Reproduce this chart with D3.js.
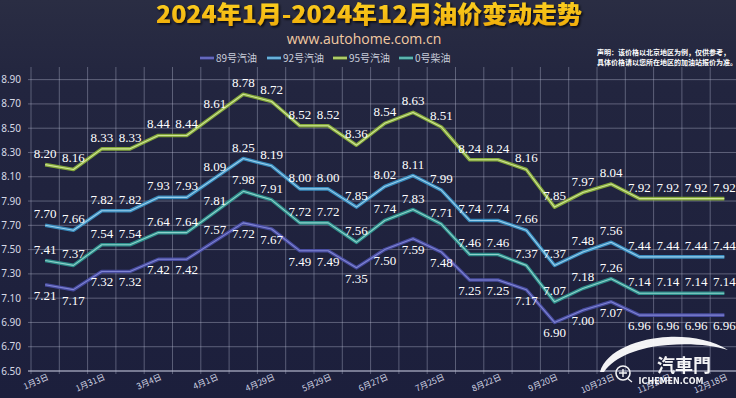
<html>
<meta charset="utf-8">
<head>
<script src="https://d3js.org/d3.v7.min.js"></script>
<style>
html, body {
  margin:0;
  padding:0;
  background:#1f2240;
}
svg {display:block;}
</style>
</head>
<body>
<svg class="svg"></svg>
<script>

// adjustment dates (only every other one gets a label)
const dates = ["1月3日","1月17日","1月31日","2月19日","3月4日","3月18日","4月1日","4月16日","4月29日",
  "5月15日","5月29日","6月13日","6月27日","7月11日","7月25日","8月8日","8月22日","9月5日",
  "9月20日","10月10日","10月23日","11月6日","11月20日","12月4日","12月18日"]

const p89 = [7.21,7.17,7.32,7.32,7.42,7.42,7.57,7.72,7.67,7.49,7.49,7.35,7.50,7.59,7.48,7.25,7.25,7.17,6.90,7.00,7.07,6.96,6.96,6.96,6.96]
const p92 = [7.70,7.66,7.82,7.82,7.93,7.93,8.09,8.25,8.19,8.00,8.00,7.85,8.02,8.11,7.99,7.74,7.74,7.66,7.37,7.48,7.56,7.44,7.44,7.44,7.44]
const p95 = [8.20,8.16,8.33,8.33,8.44,8.44,8.61,8.78,8.72,8.52,8.52,8.36,8.54,8.63,8.51,8.24,8.24,8.16,7.85,7.97,8.04,7.92,7.92,7.92,7.92]
const p0  = [7.41,7.37,7.54,7.54,7.64,7.64,7.81,7.98,7.91,7.72,7.72,7.56,7.74,7.83,7.71,7.46,7.46,7.37,7.07,7.18,7.26,7.14,7.14,7.14,7.14]

const seriesNames = ["89号汽油","92号汽油","95号汽油","0号柴油"]
const yTicks = [6.50,6.70,6.90,7.10,7.30,7.50,7.70,7.90,8.10,8.30,8.50,8.70,8.90]

const W = 736, H = 398

const series = [
  {name: seriesNames[0], values: p89, outer: "#4a4ea6", inner: "#8f93e0", below: true},
  {name: seriesNames[1], values: p92, outer: "#3a92c6", inner: "#b2e0f6", below: false},
  {name: seriesNames[2], values: p95, outer: "#8cb33a", inner: "#e2f2ae", below: false},
  {name: seriesNames[3], values: p0,  outer: "#2e9690", inner: "#a6e2da", below: false}
]

var svg = d3.select("svg")
  .attr("width", W)
  .attr("height", H)

// background
const bg = svg.append("defs").append("linearGradient")
  .attr("id", "bg")
  .attr("gradientTransform", "rotate(90)")
bg.append("stop").attr("offset", "0%").attr("stop-color", "#2a2d43")
bg.append("stop").attr("offset", "22%").attr("stop-color", "#22253f")
bg.append("stop").attr("offset", "100%").attr("stop-color", "#1c1f3c")

svg.append("rect")
  .attr("width", W)
  .attr("height", H)
  .style("fill", "url(#bg)")

const xScale = d3.scaleBand()
  .domain(dates)
  .range([31, 738.5])

const yScale = d3.scaleLinear()
  .domain([6.5, 9.0])
  .range([371, 67.5])

const cx = d => xScale(d) + xScale.bandwidth() / 2

// vertical grid, one per band edge
svg.append("g").selectAll("line")
  .data(dates)
  .enter().append("line")
  .attr("x1", d => xScale(d))
  .attr("x2", d => xScale(d))
  .attr("y1", 67)
  .attr("y2", 374)
  .attr("stroke", "#aeb2c8")
  .attr("stroke-opacity", 0.42)
  .attr("stroke-width", 1)

// horizontal grid
svg.append("g").selectAll("line")
  .data(yTicks)
  .enter().append("line")
  .attr("x1", 28)
  .attr("x2", W)
  .attr("y1", d => yScale(d))
  .attr("y2", d => yScale(d))
  .attr("stroke", "#b4b8cc")
  .attr("stroke-opacity", (d, i) => i == 0 ? 0.8 : 0.42)
  .attr("stroke-width", (d, i) => i == 0 ? 1.5 : 1)

// y labels
svg.append("g").selectAll("text")
  .data(yTicks)
  .enter().append("text")
  .attr("x", 21)
  .attr("y", d => yScale(d) + 3.5)
  .attr("text-anchor", "end")
  .style("font-family", "'Noto Sans', sans-serif")
  .style("font-size", "10px")
  .style("fill", "#d6d9e6")
  .text(d => d.toFixed(2))

// x labels, every other date
svg.append("g").selectAll("text")
  .data(dates.filter((d, i) => i % 2 == 0))
  .enter().append("text")
  .attr("transform", d => "translate(" + (cx(d) + 4) + "," + 379 + ") rotate(-24)")
  .attr("text-anchor", "end")
  .style("font-family", "'Noto Sans CJK SC', sans-serif")
  .style("font-size", "8.5px")
  .style("fill", "#d0d3e2")
  .text(d => d)

const line = d3.line()
  .x((d, i) => cx(dates[i]))
  .y(d => yScale(d))

series.forEach(function(s) {
  svg.append("path")
    .datum(s.values)
    .attr("d", line)
    .attr("fill", "none")
    .attr("stroke", s.outer)
    .attr("stroke-width", 3.6)
    .attr("stroke-opacity", 0.92)
    .attr("stroke-linejoin", "round")
  svg.append("path")
    .datum(s.values)
    .attr("d", line)
    .attr("fill", "none")
    .attr("stroke", s.inner)
    .attr("stroke-width", 1.1)
    .attr("stroke-opacity", 0.8)
    .attr("stroke-linejoin", "round")
})

// value labels
const flip89 = [6]
series.forEach(function(s, k) {
  svg.append("g").selectAll("text")
    .data(s.values)
    .enter().append("text")
    .attr("x", (d, i) => cx(dates[i]))
    .attr("y", function(d, i) {
      var below = s.below
      if (k == 0 && flip89.indexOf(i) >= 0) below = !below
      return yScale(d) + (below ? 15 : -7)
    })
    .attr("text-anchor", "middle")
    .style("font-family", "'Liberation Serif', serif")
    .style("font-size", "13px")
    .style("fill", "#ffffff")
    .text(d => d.toFixed(2))
})

// title
const tg = svg.select("defs").append("linearGradient")
  .attr("id", "tg")
  .attr("gradientTransform", "rotate(90)")
tg.append("stop").attr("offset", "0%").attr("stop-color", "#ffd824")
tg.append("stop").attr("offset", "100%").attr("stop-color", "#eea80a")

const sh = svg.select("defs").append("filter").attr("id", "sh")
sh.append("feDropShadow")
  .attr("dx", 1.5).attr("dy", 1.5).attr("stdDeviation", 1)
  .attr("flood-color", "#000000").attr("flood-opacity", 0.8)

svg.append("text")
  .attr("x", 369)
  .attr("y", 23)
  .attr("text-anchor", "middle")
  .attr("textLength", 426)
  .attr("lengthAdjust", "spacingAndGlyphs")
  .style("font-family", "'Noto Sans CJK SC', sans-serif")
  .style("font-size", "24px")
  .style("font-weight", "900")
  .style("fill", "url(#tg)")
  .attr("filter", "url(#sh)")
  .text("2024年1月-2024年12月油价变动走势")

svg.append("text")
  .attr("x", 364)
  .attr("y", 44)
  .attr("text-anchor", "middle")
  .style("font-family", "'Open Sans', sans-serif")
  .style("font-size", "14px")
  .style("fill", "#f2c9a2")
  .text("www.autohome.com.cn")

// legend
const legX = [200, 267, 333, 399]
const legend = svg.append("g").selectAll("g")
  .data(series)
  .enter().append("g")
  .attr("transform", (d, i) => "translate(" + legX[i] + ",58)")
legend.append("line")
  .attr("x1", 0).attr("x2", 14)
  .attr("stroke", d => d.outer)
  .attr("stroke-width", 3)
legend.append("line")
  .attr("x1", 0).attr("x2", 14)
  .attr("stroke", d => d.inner)
  .attr("stroke-width", 0.8)
legend.append("text")
  .attr("x", 16)
  .attr("y", 3.5)
  .style("font-family", "'Noto Sans CJK SC', sans-serif")
  .style("font-size", "10px")
  .style("fill", "#c9cddb")
  .text(d => d.name)

// disclaimer
svg.append("text")
  .attr("x", 597)
  .attr("y", 55)
  .style("font-family", "'Noto Sans CJK SC', sans-serif")
  .style("font-size", "7px")
  .style("font-weight", "bold")
  .style("fill", "#ffffff")
  .text("声明：该价格以北京地区为例，仅供参考，")
  .append("tspan")
  .attr("x", 597)
  .attr("y", 65)
  .text("具体价格请以您所在地区的加油站报价为准。")

// watermark
const wm = svg.append("g").attr("opacity", 0.95)
wm.append("path")
  .attr("d", "M600,372 C606,350 640,338 668,337 C690,336 712,340 728,350 C712,345 690,343 668,345 C640,347 615,356 604,372 Z")
  .attr("fill", "#ffffff")
wm.append("circle")
  .attr("cx", 623).attr("cy", 373).attr("r", 7)
  .attr("fill", "none").attr("stroke", "#ffffff").attr("stroke-width", 1.6)
wm.append("path")
  .attr("d", "M619,373 H627 M623,369 V377 M627,378 L632,382")
  .attr("stroke", "#ffffff").attr("stroke-width", 1.4)
wm.append("text")
  .attr("x", 684).attr("y", 372)
  .attr("text-anchor", "middle")
  .style("font-family", "'Noto Sans CJK TC', sans-serif")
  .style("font-size", "18px")
  .style("font-weight", "bold")
  .style("fill", "#ffffff")
  .text("汽車門")
wm.append("text")
  .attr("x", 671).attr("y", 384)
  .attr("text-anchor", "middle")
  .style("font-family", "'DejaVu Sans', sans-serif")
  .style("font-size", "8px")
  .style("font-weight", "bold")
  .style("fill", "#ffffff")
  .text("ICHEMEN.COM")

</script>
</body>
</html>
